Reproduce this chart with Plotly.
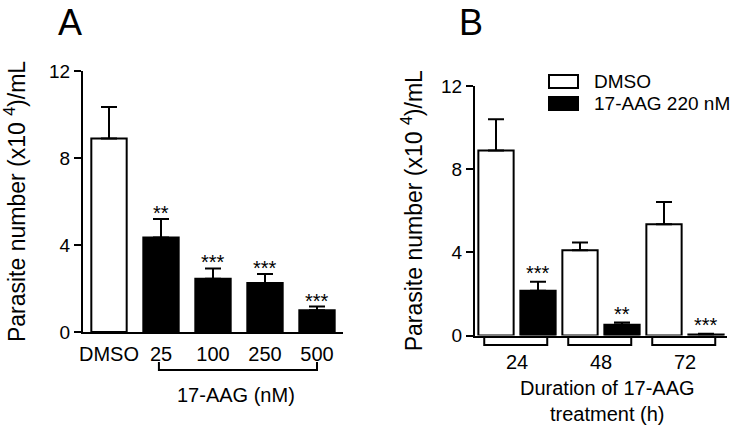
import plotly.graph_objects as go

# ---------------- data ----------------
a_labels = ["DMSO", "25", "100", "250", "500"]
a_means = [8.9, 4.35, 2.45, 2.25, 1.0]
a_sem = [1.45, 0.85, 0.47, 0.42, 0.17]
a_stars = ["", "**", "***", "***", "***"]

b_labels = ["24", "48", "72"]
b_dmso = [8.9, 4.1, 5.35]
b_dmso_sem = [1.5, 0.37, 1.07]
b_aag = [2.15, 0.52, 0.05]
b_aag_sem = [0.44, 0.1, 0.03]
b_stars = ["***", "**", "***"]

y_ticks = [0, 4, 8, 12]

FONT = "Liberation Sans, Arial, sans-serif"
W, H = 740, 428


def px(x):
    return x / W


def py(y):
    return 1 - y / H


def txt(x, y, text, size=19, xanchor="center", yanchor="middle", xref="paper", yref="paper", **kw):
    return dict(x=x, y=y, xref=xref, yref=yref, text=text, showarrow=False,
                xanchor=xanchor, yanchor=yanchor,
                font=dict(size=size, color="black", family=FONT), **kw)


fig = go.Figure()

a_x = list(range(len(a_labels)))
fig.add_trace(go.Bar(
    x=a_x, y=a_means, xaxis="x", yaxis="y", width=0.68,
    marker=dict(color=["white"] + ["black"] * 4, line=dict(color="black", width=2)),
    error_y=dict(type="data", array=a_sem, arrayminus=[0] * 5, symmetric=False,
                 color="black", thickness=2, width=8),
    showlegend=False, hoverinfo="skip",
))

b_x = list(range(len(b_labels)))
fig.add_trace(go.Bar(
    x=b_x, y=b_dmso, xaxis="x2", yaxis="y2", width=0.42, offset=-0.46,
    marker=dict(color="white", line=dict(color="black", width=2)),
    error_y=dict(type="data", array=b_dmso_sem, arrayminus=[0] * 3, symmetric=False,
                 color="black", thickness=2, width=8),
    name="DMSO", showlegend=False, hoverinfo="skip",
))
fig.add_trace(go.Bar(
    x=b_x, y=b_aag, xaxis="x2", yaxis="y2", width=0.42, offset=0.04,
    marker=dict(color="black", line=dict(color="black", width=2)),
    error_y=dict(type="data", array=b_aag_sem, arrayminus=[0] * 3, symmetric=False,
                 color="black", thickness=2, width=8),
    name="17-AAG 220 nM", showlegend=False, hoverinfo="skip",
))

axis_common = dict(showline=True, linewidth=2, linecolor="black", showgrid=False,
                   zeroline=False, automargin=False, fixedrange=True)
ytitle = "Parasite number (x10 <sup>4</sup>)/mL"

annotations = []
for i, s in enumerate(a_stars):
    if s:
        annotations.append(txt(i, a_means[i] + a_sem[i], s, size=20, xref="x", yref="y",
                               yanchor="bottom", yshift=-7))
for i, s in enumerate(b_stars):
    annotations.append(txt(i + 0.25, b_aag[i] + b_aag_sem[i], s, size=20, xref="x2", yref="y2",
                           yanchor="bottom", yshift=-4))

annotations += [
    txt(px(70), 1.0, "A", size=36, yanchor="top"),
    txt(px(471), 1.0, "B", size=36, yanchor="top"),
    txt(2.45, py(395), "17-AAG (nM)", size=20, xref="x"),
    txt(px(607), py(401), "Duration of 17-AAG<br>treatment (h)", size=20),
    txt(px(592), py(82), "DMSO", xanchor="left"),
    txt(px(592), py(103), "17-AAG 220 nM", xanchor="left"),
]

shapes = [
    # bracket under 17-AAG doses (panel A)
    dict(type="path", xref="x", yref="paper",
         path=f"M 0.96,{py(362)} L 0.96,{py(370)} L 4,{py(370)} L 4,{py(362)}",
         line=dict(color="black", width=2)),
    # legend patches (panel B)
    dict(type="rect", xref="paper", yref="paper", x0=px(549), x1=px(578), y0=py(88), y1=py(75),
         fillcolor="white", line=dict(color="black", width=2)),
    dict(type="rect", xref="paper", yref="paper", x0=px(549), x1=px(578), y0=py(110), y1=py(97),
         fillcolor="black", line=dict(color="black", width=2)),
]
for g in b_x:
    shapes.append(dict(type="path", xref="x2", yref="paper",
                       path=f"M {g-0.39},{py(336)} L {g-0.39},{py(345)} L {g+0.36},{py(345)} L {g+0.36},{py(336)}",
                       line=dict(color="black", width=2)))

fig.update_layout(
    width=W, height=H, autosize=False,
    margin=dict(l=0, r=0, t=0, b=0),
    paper_bgcolor="white", plot_bgcolor="white",
    font=dict(family=FONT, color="black", size=19),
    barmode="overlay",
    xaxis=dict(domain=[px(83), px(343)], range=[-0.5, 4.5], anchor="y",
               tickvals=a_x, ticktext=a_labels, ticks="", ticklabelstandoff=3,
               tickfont=dict(size=20), **axis_common),
    yaxis=dict(domain=[py(332), py(71)], range=[0, 12], anchor="x",
               tickvals=y_ticks, ticks="outside", ticklen=7, tickwidth=2, tickcolor="black",
               tickfont=dict(size=19),
               title=dict(text=ytitle, font=dict(size=23), standoff=17), **axis_common),
    xaxis2=dict(domain=[px(475), px(727)], range=[-0.5, 2.5], anchor="y2",
                tickvals=b_x, ticktext=b_labels, ticks="", ticklabelstandoff=7,
                tickfont=dict(size=20), **axis_common),
    yaxis2=dict(domain=[py(335.5), py(86)], range=[0, 12], anchor="x2",
                tickvals=y_ticks, ticks="outside", ticklen=7, tickwidth=2, tickcolor="black",
                tickfont=dict(size=19),
                title=dict(text=ytitle, font=dict(size=23), standoff=12), **axis_common),
    annotations=annotations,
    shapes=shapes,
)

fig.write_html("out.html", post_script="document.body.style.margin='0';",
               config={"displayModeBar": False})
